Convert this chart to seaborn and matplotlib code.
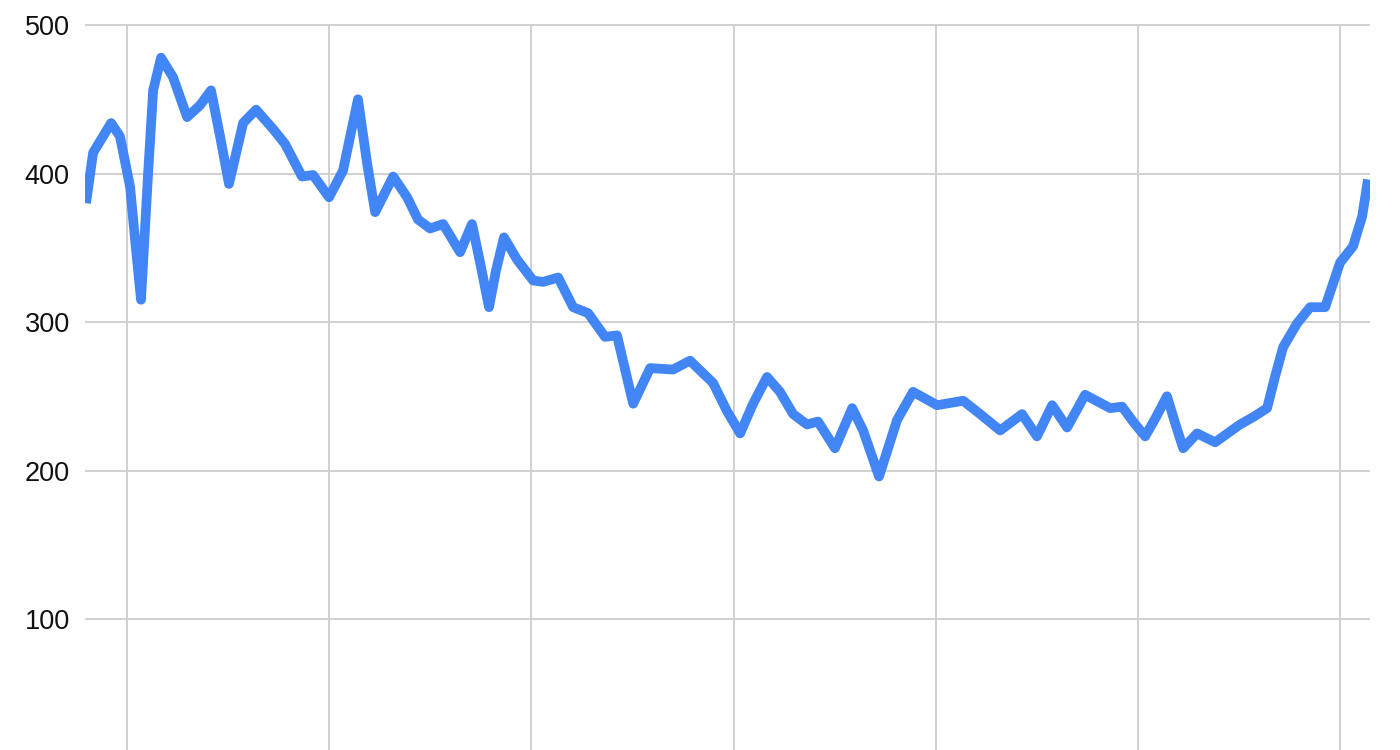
import matplotlib
matplotlib.use("Agg")
import matplotlib.pyplot as plt
import seaborn as sns
import pandas as pd

# x in gridline units (vertical gridlines at 0..6)
x_pos = [-0.203, -0.168, -0.079, -0.035, 0.015, 0.040, 0.069, 0.104, 0.129, 0.168,
         0.227, 0.297, 0.361, 0.415, 0.460, 0.504, 0.574, 0.638, 0.722, 0.781,
         0.865, 0.920, 0.999, 1.068, 1.142, 1.187, 1.227, 1.316, 1.385, 1.439,
         1.499, 1.563, 1.647, 1.706, 1.746, 1.790, 1.825, 1.864, 1.929, 2.008,
         2.057, 2.132, 2.206, 2.280, 2.364, 2.423, 2.503, 2.587, 2.700, 2.784,
         2.898, 2.967, 3.032, 3.096, 3.165, 3.229, 3.294, 3.363, 3.417, 3.501,
         3.586, 3.640, 3.719, 3.808, 3.887, 4.006, 4.135, 4.219, 4.318, 4.426,
         4.500, 4.575, 4.649, 4.738, 4.862, 4.921, 4.975, 5.035, 5.089, 5.143,
         5.183, 5.223, 5.292, 5.381, 5.504, 5.569, 5.638, 5.677, 5.717, 5.786,
         5.851, 5.925, 5.999, 6.063, 6.108, 6.137]
values = [380, 414, 434, 425, 391, 355, 315, 400, 456, 478,
          465, 438, 446, 456, 425, 393, 434, 443, 430, 420,
          398, 399, 384, 402, 450, 407, 374, 398, 384, 369,
          363, 366, 347, 366, 340, 310, 335, 357, 342, 328,
          327, 330, 310, 306, 290, 291, 245, 269, 268, 274,
          259, 240, 225, 245, 263, 253, 238, 231, 233, 215,
          242, 227, 196, 234, 253, 244, 247, 238, 227, 238,
          223, 244, 229, 251, 242, 243, 233, 223, 236, 250,
          232, 215, 225, 219, 231, 236, 242, 263, 283, 299,
          310, 310, 340, 351, 371, 396]

y_ticks = [100, 200, 300, 400, 500]
x_grid = [0, 1, 2, 3, 4, 5, 6]

df = pd.DataFrame({"x": x_pos, "value": values})

sns.set_theme(style="whitegrid")
plt.rcParams["font.family"] = ["Liberation Sans", "DejaVu Sans"]

fig = plt.figure(figsize=(14, 7.5), dpi=100)
ax = fig.add_axes([85 / 1400, 0.0, 1285 / 1400, 1 - 24 / 750])

sns.lineplot(data=df, x="x", y="value", ax=ax, color="#4285f4", linewidth=7,
             solid_joinstyle="round", solid_capstyle="butt")

ax.set_xlim(-0.208, 6.147)
ax.set_ylim(11.8, 500.7)
ax.set_xticks(x_grid)
ax.set_xticklabels([])
ax.set_yticks(y_ticks)
ax.set_yticklabels([str(v) for v in y_ticks])
ax.set_xlabel("")
ax.set_ylabel("")
ax.tick_params(axis="both", length=0)
ax.tick_params(axis="y", pad=11, labelsize=19.5, labelcolor="#111111")
ax.grid(True, color="#d0d0d0", linewidth=1.4)
for s in ax.spines.values():
    s.set_visible(False)

fig.savefig("out.png", dpi=100, facecolor="white")
